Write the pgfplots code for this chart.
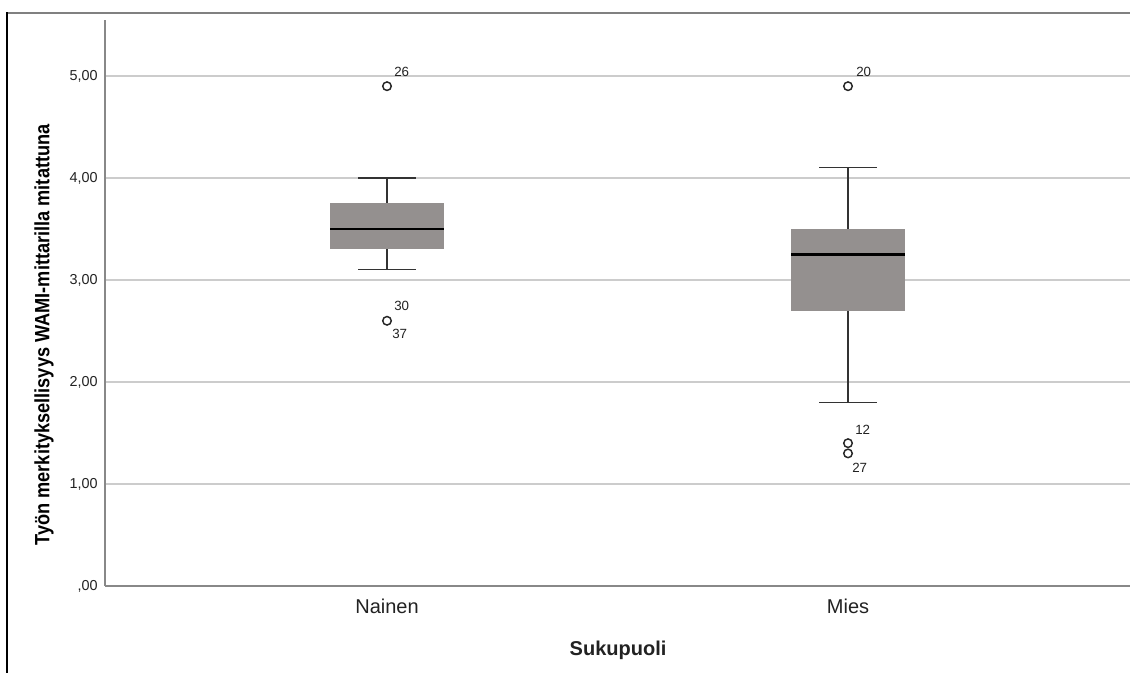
\documentclass[border=0pt]{standalone}
\usepackage{fontspec}
\setmainfont{Liberation Sans}
\usepackage{graphicx}
\usepackage{pgfplots}
\pgfplotsset{compat=1.18}
\usepgfplotslibrary{statistics}
\definecolor{boxgray}{RGB}{148,144,143}
\definecolor{gridgray}{RGB}{204,204,204}
\definecolor{axisgray}{RGB}{136,136,136}
\definecolor{txt}{RGB}{34,34,34}
\begin{document}
\begin{tikzpicture}[x=1pt,y=1pt]
\useasboundingbox (0,0) rectangle (847.5,504.75);
\draw[black!50, line width=1.5pt] (5.25,495) -- (847.5,495);
\draw[black, line width=0.9pt] (5.25,495.6) -- (5.25,0);
\begin{axis}[
  at={(78.75pt,65.25pt)}, anchor=south west,
  scale only axis, width=768.75pt, height=424.5pt,
  xmin=0.3883, xmax=2.6117, ymin=0, ymax=5.549,
  clip=false,
  axis x line=bottom, axis y line=left,
  axis line style={-, draw=axisgray, line width=0.8pt},
  xtick={1,2}, xticklabels={Nainen,Mies},
  ytick={0,1,2,3,4,5},
  yticklabels={{,00},{1,00},{2,00},{3,00},{4,00},{5,00}},
  major tick length=0pt,
  ymajorgrids, major grid style={draw=gridgray, line width=1.1pt},
  xticklabel style={font=\fontsize{15}{18}\selectfont, text=txt, anchor=north, inner sep=0pt},
  xticklabel shift=9.75pt,
  yticklabel style={font=\fontsize{10.8}{13}\selectfont, text=txt, anchor=east, inner sep=0pt},
  yticklabel shift=5.25pt,
  xlabel={Sukupuoli},
  xlabel style={at={(axis description cs:0.5005,-0.1131)}, anchor=center, font=\fontsize{15}{18}\selectfont\bfseries, text=txt},
  ylabel={\scalebox{0.88}[1]{Työn merkityksellisyys WAMI-mittarilla mitattuna}},
  ylabel style={at={(axis description cs:-0.0595,0.4435)}, anchor=center, font=\fontsize{15.5}{18}\selectfont\bfseries, text=black},
  boxplot/draw direction=y,
  boxplot/every box/.style={draw=none, fill=boxgray},
  boxplot/every whisker/.style={draw=black!80, line width=0.9pt},
  boxplot/every median/.style={draw=black, line width=1.8pt},
]
\addplot[boxplot prepared={draw position=1, lower whisker=3.1, lower quartile=3.3, median=3.5, upper quartile=3.75, upper whisker=4.0, box extend=0.247, whisker extend=0.124},
  mark=o, mark size=3.2pt, mark options={draw=black!85, line width=1.1pt}]
  coordinates {(0,4.9) (0,2.6)};
\addplot[boxplot prepared={draw position=2, lower whisker=1.8, lower quartile=2.7, median=3.25, upper quartile=3.5, upper whisker=4.1, box extend=0.247, whisker extend=0.124},
  mark=o, mark size=3.2pt, mark options={draw=black!85, line width=1.1pt}]
  coordinates {(0,4.9) (0,1.4) (0,1.3)};
\begin{scope}[every node/.style={anchor=west, font=\fontsize{10}{12}\selectfont, text=txt, inner sep=0pt}]
\node[xshift=5.25pt, yshift=10.5pt] at (axis cs:1,4.9) {26};
\node[xshift=5.25pt, yshift=10.9pt] at (axis cs:1,2.6) {30};
\node[xshift=3.75pt, yshift=-10.1pt] at (axis cs:1,2.6) {37};
\node[xshift=6pt, yshift=10.5pt] at (axis cs:2,4.9) {20};
\node[xshift=5.25pt, yshift=9.9pt] at (axis cs:2,1.4) {12};
\node[xshift=3pt, yshift=-11pt] at (axis cs:2,1.3) {27};
\end{scope}
\end{axis}
\end{tikzpicture}
\end{document}
